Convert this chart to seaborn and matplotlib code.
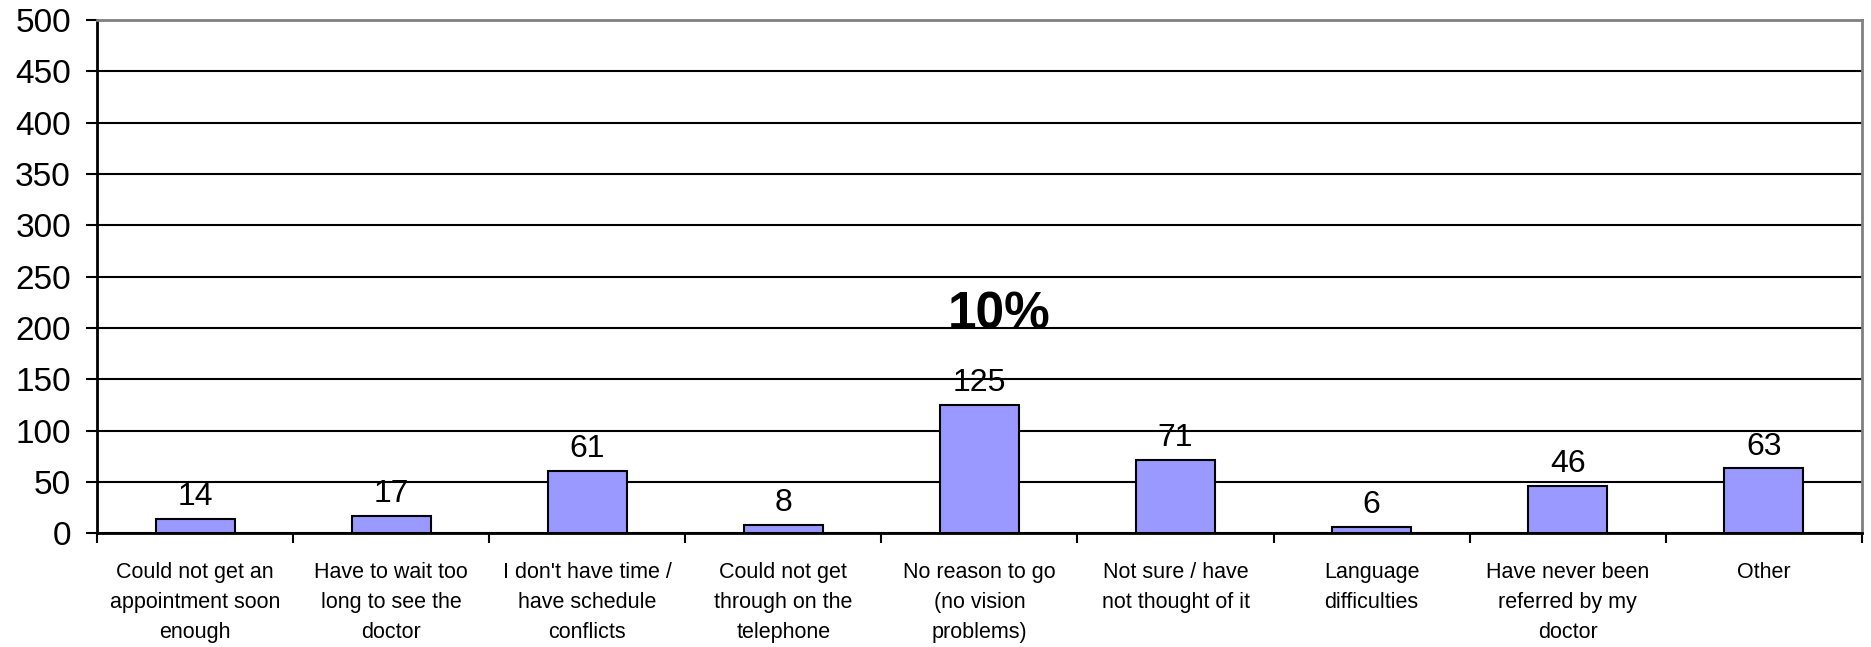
import numpy as np
import pandas as pd
import matplotlib
matplotlib.use('Agg')
import matplotlib.pyplot as plt
import seaborn as sns

categories = [
    'Could not get an\nappointment soon\nenough',
    'Have to wait too\nlong to see the\ndoctor',
    "I don't have time /\nhave schedule\nconflicts",
    'Could not get\nthrough on the\ntelephone',
    'No reason to go\n(no vision\nproblems)',
    'Not sure / have\nnot thought of it',
    'Language\ndifficulties',
    'Have never been\nreferred by my\ndoctor',
    'Other',
]
counts = [14, 17, 61, 8, 125, 71, 6, 46, 63]
y_ticks = [0, 50, 100, 150, 200, 250, 300, 350, 400, 450, 500]

sns.set_style('white')
plt.rcParams['font.family'] = ['Liberation Sans', 'DejaVu Sans']
for k in ['text.color', 'xtick.color', 'ytick.color', 'axes.labelcolor']:
    plt.rcParams[k] = 'black'

df = pd.DataFrame({'reason': categories, 'count': counts})

fig = plt.figure(figsize=(18.71, 6.47), dpi=100)
ax = fig.add_axes([0.052, 0.176, 0.943, 0.793])

sns.barplot(data=df, x='reason', y='count', color='#9999FF', saturation=1,
            width=0.4, edgecolor='black', linewidth=1.5, ax=ax, zorder=3)

ax.set_ylim(0, 500)
ax.set_xlim(-0.5, len(categories) - 0.5)
ax.set_yticks(y_ticks)
ax.yaxis.grid(True, color='black', linewidth=1.5, zorder=0)
ax.set_axisbelow(True)
ax.set_xlabel('')
ax.set_ylabel('')

for s in ['left', 'bottom']:
    ax.spines[s].set_color('black')
    ax.spines[s].set_linewidth(2)
for s in ['top', 'right']:
    ax.spines[s].set_color('#808080')
    ax.spines[s].set_linewidth(2)

ax.tick_params(axis='y', labelsize=24, length=8, width=1.5, direction='out',
               left=True, pad=11)
ax.tick_params(axis='x', which='major', labelsize=15.5, length=0, pad=21)
for lbl in ax.get_xticklabels():
    lbl.set_linespacing(1.55)
ax.set_xticks(np.arange(-0.5, len(categories)), minor=True)
ax.tick_params(axis='x', which='minor', length=7, width=1.5, direction='out',
               bottom=True)

ax.bar_label(ax.containers[0], labels=[str(v) for v in counts],
             fontsize=23, padding=5)

ax.text(4.1, 213, '10%', fontsize=37, fontweight='bold', ha='center',
        va='center')

fig.savefig('out.png', dpi=100)
